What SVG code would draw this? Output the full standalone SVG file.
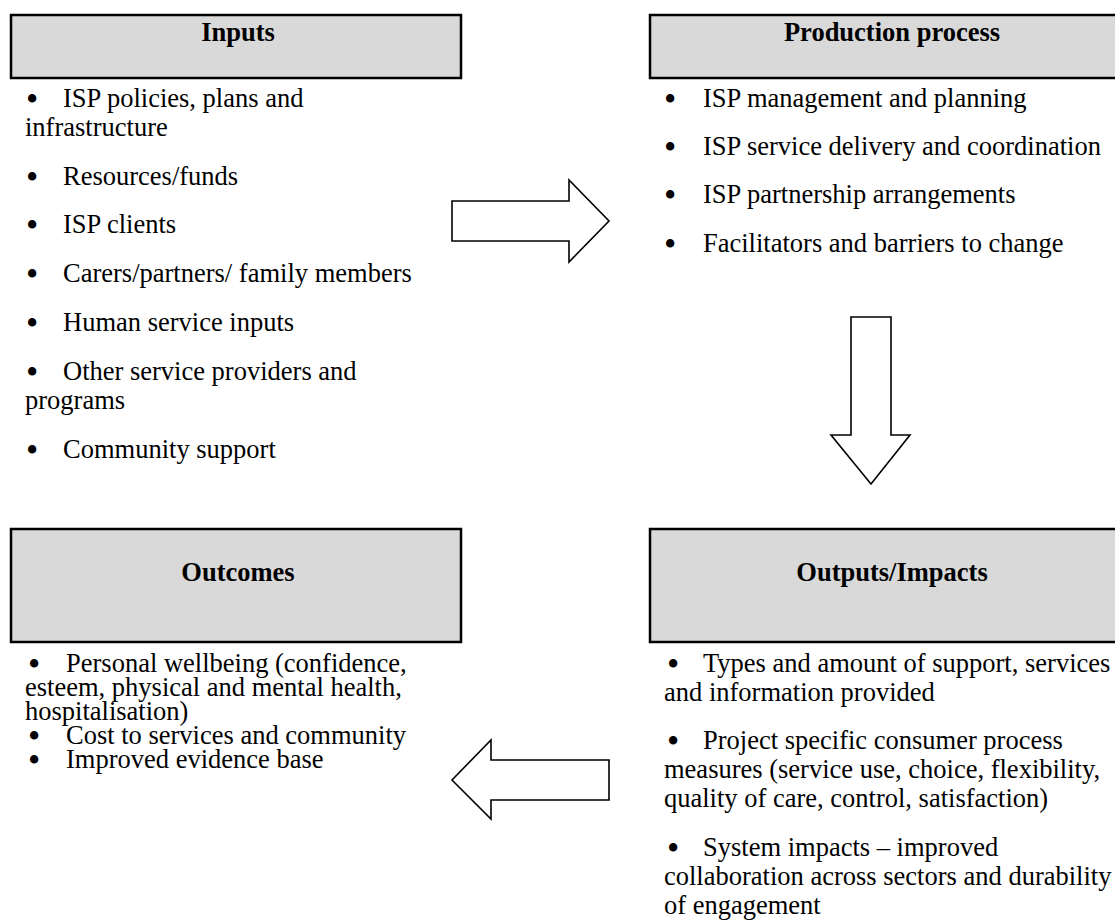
<svg xmlns="http://www.w3.org/2000/svg" width="1115" height="924" viewBox="0 0 1115 924">
<style>
.box{fill:#d9d9d9;stroke:#000;stroke-width:2.5}
.arrow{fill:#fff;stroke:#000;stroke-width:1.6;stroke-linejoin:miter}
.h{font-family:"Liberation Serif","Times New Roman",serif;font-size:26.5px;font-weight:bold;text-anchor:middle;fill:#000}
.t{font-family:"Liberation Serif","Times New Roman",serif;font-size:26.5px;fill:#000}
.b{font-family:"Liberation Serif","Times New Roman",serif;font-size:35px;fill:#000}
</style>
<rect width="1115" height="924" fill="#fff"/>
<g id="inputs">
<rect class="box" x="11" y="15" width="450" height="63"/>
<text class="h" x="238" y="41">Inputs</text>
<text class="b" x="26" y="111">•</text><text class="t" x="63" y="107">ISP policies, plans and</text>
<text class="t" x="25" y="136">infrastructure</text>
<text class="b" x="26" y="189">•</text><text class="t" x="63" y="185">Resources/funds</text>
<text class="b" x="26" y="237">•</text><text class="t" x="63" y="233">ISP clients</text>
<text class="b" x="26" y="286">•</text><text class="t" x="63" y="282">Carers/partners/ family members</text>
<text class="b" x="26" y="335">•</text><text class="t" x="63" y="331">Human service inputs</text>
<text class="b" x="26" y="384">•</text><text class="t" x="63" y="380">Other service providers and</text>
<text class="t" x="25" y="409">programs</text>
<text class="b" x="26" y="462">•</text><text class="t" x="63" y="458">Community support</text>
</g>
<g id="production">
<rect class="box" x="650" y="15" width="490" height="63"/>
<text class="h" x="892" y="41">Production process</text>
<text class="b" x="664" y="111">•</text><text class="t" x="703" y="107">ISP management and planning</text>
<text class="b" x="664" y="159">•</text><text class="t" x="703" y="155">ISP service delivery and coordination</text>
<text class="b" x="664" y="207">•</text><text class="t" x="703" y="203">ISP partnership arrangements</text>
<text class="b" x="664" y="256">•</text><text class="t" x="703" y="252">Facilitators and barriers to change</text>
</g>
<g id="outcomes">
<rect class="box" x="11" y="529" width="450" height="113"/>
<text class="h" x="238" y="581">Outcomes</text>
<text class="b" x="28" y="676">•</text><text class="t" x="66" y="672">Personal wellbeing (confidence,</text>
<text class="t" x="25" y="696">esteem, physical and mental health,</text>
<text class="t" x="25" y="720">hospitalisation)</text>
<text class="b" x="28" y="748">•</text><text class="t" x="66" y="744">Cost to services and community</text>
<text class="b" x="28" y="772">•</text><text class="t" x="66" y="768">Improved evidence base</text>
</g>
<g id="outputs">
<rect class="box" x="650" y="529" width="490" height="113"/>
<text class="h" x="892" y="581">Outputs/Impacts</text>
<text class="b" x="667" y="676">•</text><text class="t" x="703" y="672">Types and amount of support, services</text>
<text class="t" x="664" y="701">and information provided</text>
<text class="b" x="667" y="753">•</text><text class="t" x="703" y="749">Project specific consumer process</text>
<text class="t" x="664" y="778">measures (service use, choice, flexibility,</text>
<text class="t" x="664" y="807">quality of care, control, satisfaction)</text>
<text class="b" x="667" y="860">•</text><text class="t" x="703" y="856">System impacts – improved</text>
<text class="t" x="664" y="885">collaboration across sectors and durability</text>
<text class="t" x="664" y="914">of engagement</text>
</g>
<g id="connectors">
<polygon class="arrow" points="452,201 569,201 569,180 609,221 569,262 569,241 452,241"/>
<polygon class="arrow" points="851,317 891,317 891,435 910,435 871,484 831,435 851,435"/>
<polygon class="arrow" points="609,760 491,760 491,740 452,780 491,819 491,800 609,800"/>
</g>
</svg>
